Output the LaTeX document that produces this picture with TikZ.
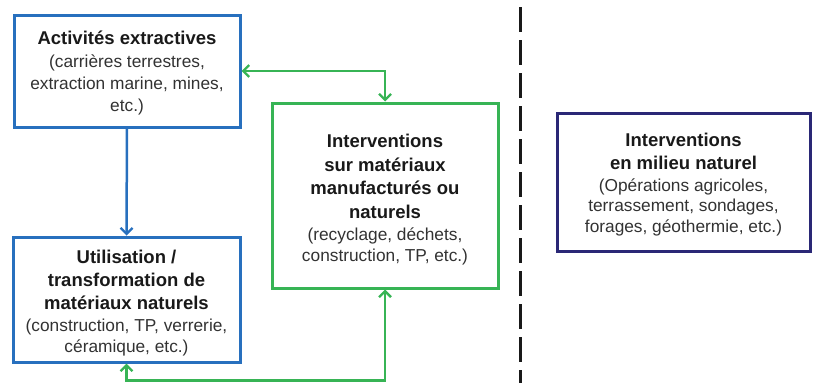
\documentclass[tikz,border=0pt]{standalone}
\usepackage{fontspec}
\setmainfont{Liberation Sans}
\usetikzlibrary{arrows.meta}
\definecolor{cblue}{RGB}{40,112,190}
\definecolor{cgreen}{RGB}{55,180,85}
\definecolor{cnavy}{RGB}{42,40,118}
\definecolor{ctext}{RGB}{25,25,25}
\definecolor{csub}{RGB}{50,50,50}
\newcommand{\Bt}[1]{\textcolor{ctext}{\bfseries\fontsize{18.5}{20.5}\selectfont #1}}
\begin{document}
\begin{tikzpicture}[x=1pt,y=-1pt,
  box/.style={draw,line width=3pt,rectangle,inner sep=0pt},
  txt/.style={inner sep=0pt,align=center,text=csub,font=\fontsize{17.3}{20.5}\selectfont},
  conn/.style={line width=2.5pt,-{Straight Barb[length=6pt,width=12pt,line width=2.3pt]}},
  conn2/.style={line width=2.5pt,{Straight Barb[length=6pt,width=12pt,line width=2.3pt]}-{Straight Barb[length=6pt,width=12pt,line width=2.3pt]}}]
\useasboundingbox (0,0) rectangle (813,383);
\node[box,draw=cblue,minimum width=226pt,minimum height=112pt] (b1) at (127,71) {};
\node[txt] (b1t) at ([yshift=-2.5pt]b1.center)
  {\Bt{Activités extractives}\\[2.5pt] (carrières terrestres,\\[1.5pt] extraction marine, mines,\\[1.5pt] etc.)};
\node[box,draw=cblue,minimum width=227pt,minimum height=125pt] (b2) at (126.5,299.5) {};
\node[txt] (b2t) at ([yshift=-3.5pt]b2.center)
  {\Bt{Utilisation /}\\[2.5pt] \Bt{transformation de}\\[2.5pt] \Bt{matériaux naturels}\\[2pt] (construction, TP, verrerie,\\ céramique, etc.)};
\node[box,draw=cgreen,minimum width=226pt,minimum height=185pt] (g) at (385,195.5) {};
\node[txt] (gt) at ([yshift=-4pt]g.center)
  {\Bt{Interventions}\\[3pt] \Bt{sur matériaux}\\[3pt] \Bt{manufacturés ou}\\[3pt] \Bt{naturels}\\[1.5pt] (recyclage, déchets,\\[0.5pt] construction, TP, etc.)};
\node[box,draw=cnavy,minimum width=253pt,minimum height=138pt] (n) at (683.5,182) {};
\node[txt] (nt) at ([yshift=-2.5pt]n.center)
  {\Bt{Interventions}\\[2.5pt] \Bt{en milieu naturel}\\[1pt] (Opérations agricoles,\\ terrassement, sondages,\\ forages, géothermie, etc.)};
\draw[conn,cblue] (b1.south) -- (b2.north);
\draw[conn2,cgreen] (b1.east) -| (g.north);
\coordinate (bot) at (250,380.5);
\draw[conn2,cgreen] (b2.south) |- (bot) -| (g.south);
\coordinate (dtop) at (520,7);
\coordinate (dbot) at (520,383);
\draw[line width=3pt,dash pattern=on 25pt off 8pt,ctext] (dtop) -- (dbot);
\end{tikzpicture}
\end{document}
